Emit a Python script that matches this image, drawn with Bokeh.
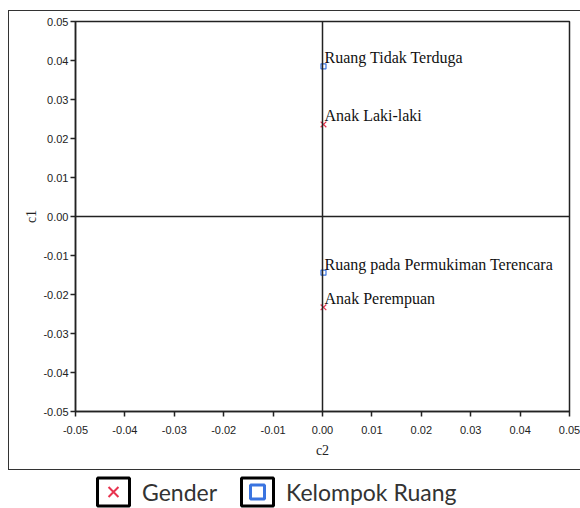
from bokeh.plotting import figure
from bokeh.layouts import column
from bokeh.models import (Range1d, FixedTicker, NumeralTickFormatter, Span, Legend,
                          LegendItem, ColumnDataSource)
from bokeh.core.properties import value
from bokeh.embed import file_html
from bokeh.resources import INLINE

# ---- data ----
gender_labels = ["Anak Laki-laki", "Anak Perempuan"]
gender_c2 = [0.0002, 0.0002]
gender_c1 = [0.0236, -0.0233]

ruang_labels = ["Ruang Tidak Terduga", "Ruang pada Permukiman Terencara"]
ruang_c2 = [0.0002, 0.0002]
ruang_c1 = [0.0385, -0.0144]

tick_values = [-0.05, -0.04, -0.03, -0.02, -0.01, 0.0, 0.01, 0.02, 0.03, 0.04, 0.05]
legend_names = ["Gender", "Kelompok Ruang"]

RED = "#e8334f"
BLUE = "#3a74e0"
TICK_FONT = "Liberation Sans"
SERIF = "Liberation Serif"
DARK = "#222222"

p = figure(width=572, height=460, output_backend="svg", toolbar_location=None,
           x_range=Range1d(-0.05, 0.05), y_range=Range1d(-0.05, 0.05),
           min_border_left=66, min_border_right=12, min_border_top=10, min_border_bottom=60)
p.margin = (10, 0, 0, 8)
p.styles = {"border-left": "1.5px solid #333333",
            "border-top": "1.5px solid #333333",
            "border-bottom": "1.5px solid #333333"}
p.grid.visible = False
p.outline_line_color = DARK
p.outline_line_width = 1.5

for ax in (p.xaxis[0], p.yaxis[0]):
    ax.ticker = FixedTicker(ticks=tick_values)
    ax.formatter = NumeralTickFormatter(format="0.00")
    ax.minor_tick_line_color = None
    ax.major_tick_in = 0
    ax.major_tick_out = 5
    ax.major_tick_line_color = DARK
    ax.major_tick_line_width = 1.5
    ax.axis_line_color = DARK
    ax.axis_line_width = 1.5
    ax.major_label_text_font = TICK_FONT
    ax.major_label_text_font_size = "11px"
    ax.major_label_text_color = DARK
    ax.axis_label_text_font = SERIF
    ax.axis_label_text_font_style = "normal"
    ax.axis_label_text_font_size = "14px"
    ax.axis_label_text_color = DARK

p.xaxis.axis_label = "c2"
p.yaxis.axis_label = "c1"
p.xaxis.major_label_standoff = 9
p.yaxis.major_label_standoff = 2
p.xaxis.axis_label_standoff = 6
p.yaxis.axis_label_standoff = 1

p.add_layout(Span(location=0, dimension="width", line_color=DARK, line_width=1.5))
p.add_layout(Span(location=0, dimension="height", line_color=DARK, line_width=1.5))

gsrc = ColumnDataSource(dict(x=gender_c2, y=gender_c1, t=gender_labels))
rsrc = ColumnDataSource(dict(x=ruang_c2, y=ruang_c1, t=ruang_labels))

p.scatter("x", "y", source=gsrc, marker="x", size=8, line_color=RED, line_width=1.2)
p.scatter("x", "y", source=rsrc, marker="square", size=5, line_color=BLUE,
          fill_color=None, line_width=1.2)

for src in (gsrc, rsrc):
    p.text("x", "y", text="t", source=src, x_offset=1, y_offset=0,
           text_font=value(SERIF), text_font_size="16px", text_color="#111111",
           text_baseline="bottom", text_align="left")

# ---- legend in its own strip below the boxed chart ----
# helper renderers share the real sources; the strip's ranges keep them off-frame
lf = figure(width=580, height=38, output_backend="svg", toolbar_location=None,
            x_range=Range1d(1, 2), y_range=Range1d(1, 2),
            x_axis_location=None, y_axis_location=None,
            min_border_left=0, min_border_right=0, min_border_top=0, min_border_bottom=0)
lf.grid.visible = False
lf.outline_line_color = None

box1 = lf.rect("x", "y", source=gsrc, width=0.001, height=0.001, fill_color="white",
               line_color="black", line_width=3)
lg1 = lf.scatter("x", "y", source=gsrc, marker="x", size=10, line_color=RED, line_width=2)
box2 = lf.rect("x", "y", source=rsrc, width=0.001, height=0.001, fill_color="white",
               line_color="black", line_width=3)
lg2 = lf.scatter("x", "y", source=rsrc, marker="square", size=10, line_color=BLUE,
                 fill_color=None, line_width=3)

legend = Legend(items=[LegendItem(label=legend_names[0], renderers=[box1, lg1]),
                       LegendItem(label=legend_names[1], renderers=[box2, lg2])],
                orientation="horizontal", location=(27, -1),
                glyph_width=40, glyph_height=35, padding=0, margin=0,
                spacing=20, label_standoff=9, border_line_color=None,
                background_fill_alpha=0,
                label_text_font="Lato", label_text_font_size="23px",
                label_text_color="#333333")
lf.add_layout(legend, "center")

layout = column(p, lf, spacing=0)
open("out.html", "w").write(file_html(layout, INLINE))
